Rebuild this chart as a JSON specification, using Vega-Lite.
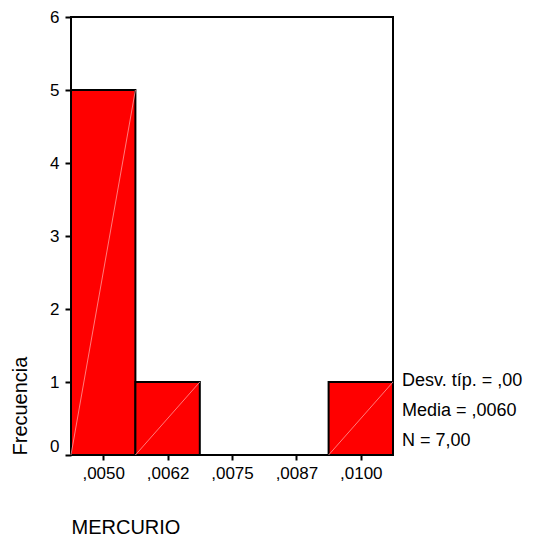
{
  "$schema": "https://vega.github.io/schema/vega-lite/v6.json",
  "width": 322,
  "height": 438,
  "autosize": "none",
  "padding": {"left": 71, "top": 17, "right": 145, "bottom": 90},
  "background": "white",
  "config": {
    "font": "Liberation Sans",
    "view": {"stroke": "black", "strokeWidth": 2},
    "axis": {
      "grid": false,
      "domain": false,
      "tickColor": "black",
      "tickWidth": 2,
      "labelColor": "black",
      "labelFont": "Liberation Sans",
      "labelFontSize": 17,
      "titleColor": "black",
      "titleFont": "Liberation Sans",
      "titleFontSize": 20,
      "titleFontWeight": "normal"
    }
  },
  "datasets": {
    "bins": [
      {"start": 0.004375, "end": 0.005625, "count": 5},
      {"start": 0.005625, "end": 0.006875, "count": 1},
      {"start": 0.006875, "end": 0.008125, "count": 0},
      {"start": 0.008125, "end": 0.009375, "count": 0},
      {"start": 0.009375, "end": 0.010625, "count": 1}
    ],
    "stats": [
      {"text": "Desv. típ. = ,00\nMedia = ,0060\nN = 7,00", "x": 0.010625, "y": 0}
    ]
  },
  "layer": [
    {
      "data": {"name": "bins"},
      "mark": {"type": "bar", "color": "#ff0000", "stroke": "black", "strokeWidth": 2},
      "encoding": {
        "x": {
          "field": "start",
          "type": "quantitative",
          "scale": {"domain": [0.004375, 0.010625], "nice": false, "zero": false},
          "axis": {
            "title": "MERCURIO",
            "values": [0.005, 0.00625, 0.0075, 0.00875, 0.01],
            "labelExpr": "replace(format(floor(datum.value*10000+0.000001)/10000, '.4f'), '0.', ',')",
            "tickSize": 5,
            "labelPadding": 5,
            "titleAnchor": "start",
            "titleAlign": "left",
            "titlePadding": 36
          }
        },
        "x2": {"field": "end"},
        "y": {
          "field": "count",
          "type": "quantitative",
          "scale": {"domain": [0, 6], "nice": false, "zero": true, "padding": 0},
          "axis": {
            "title": "Frecuencia",
            "values": [0, 1, 2, 3, 4, 5, 6],
            "format": "d",
            "tickSize": 6,
            "labelPadding": 6,
            "labelBaseline": {"condition": {"test": "datum.value == 0", "value": "bottom"}, "value": "middle"},
            "titleAnchor": "start",
            "titlePadding": 19
          }
        },
        "y2": {"datum": 0}
      }
    },
    {
      "data": {"name": "bins"},
      "transform": [{"filter": "datum.count > 0"}],
      "mark": {"type": "rule", "color": "#ff9a9a", "strokeWidth": 0.8},
      "encoding": {
        "x": {"field": "end", "type": "quantitative"},
        "x2": {"field": "start"},
        "y": {"field": "count", "type": "quantitative"},
        "y2": {"datum": 0}
      }
    },
    {
      "data": {"name": "stats"},
      "mark": {"type": "text", "align": "left", "baseline": "alphabetic", "lineBreak": "\n", "lineHeight": 30, "fontSize": 18, "color": "black", "dx": 9, "dy": -69},
      "encoding": {
        "text": {"field": "text", "type": "nominal"},
        "x": {"field": "x", "type": "quantitative"},
        "y": {"field": "y", "type": "quantitative"}
      }
    }
  ]
}
